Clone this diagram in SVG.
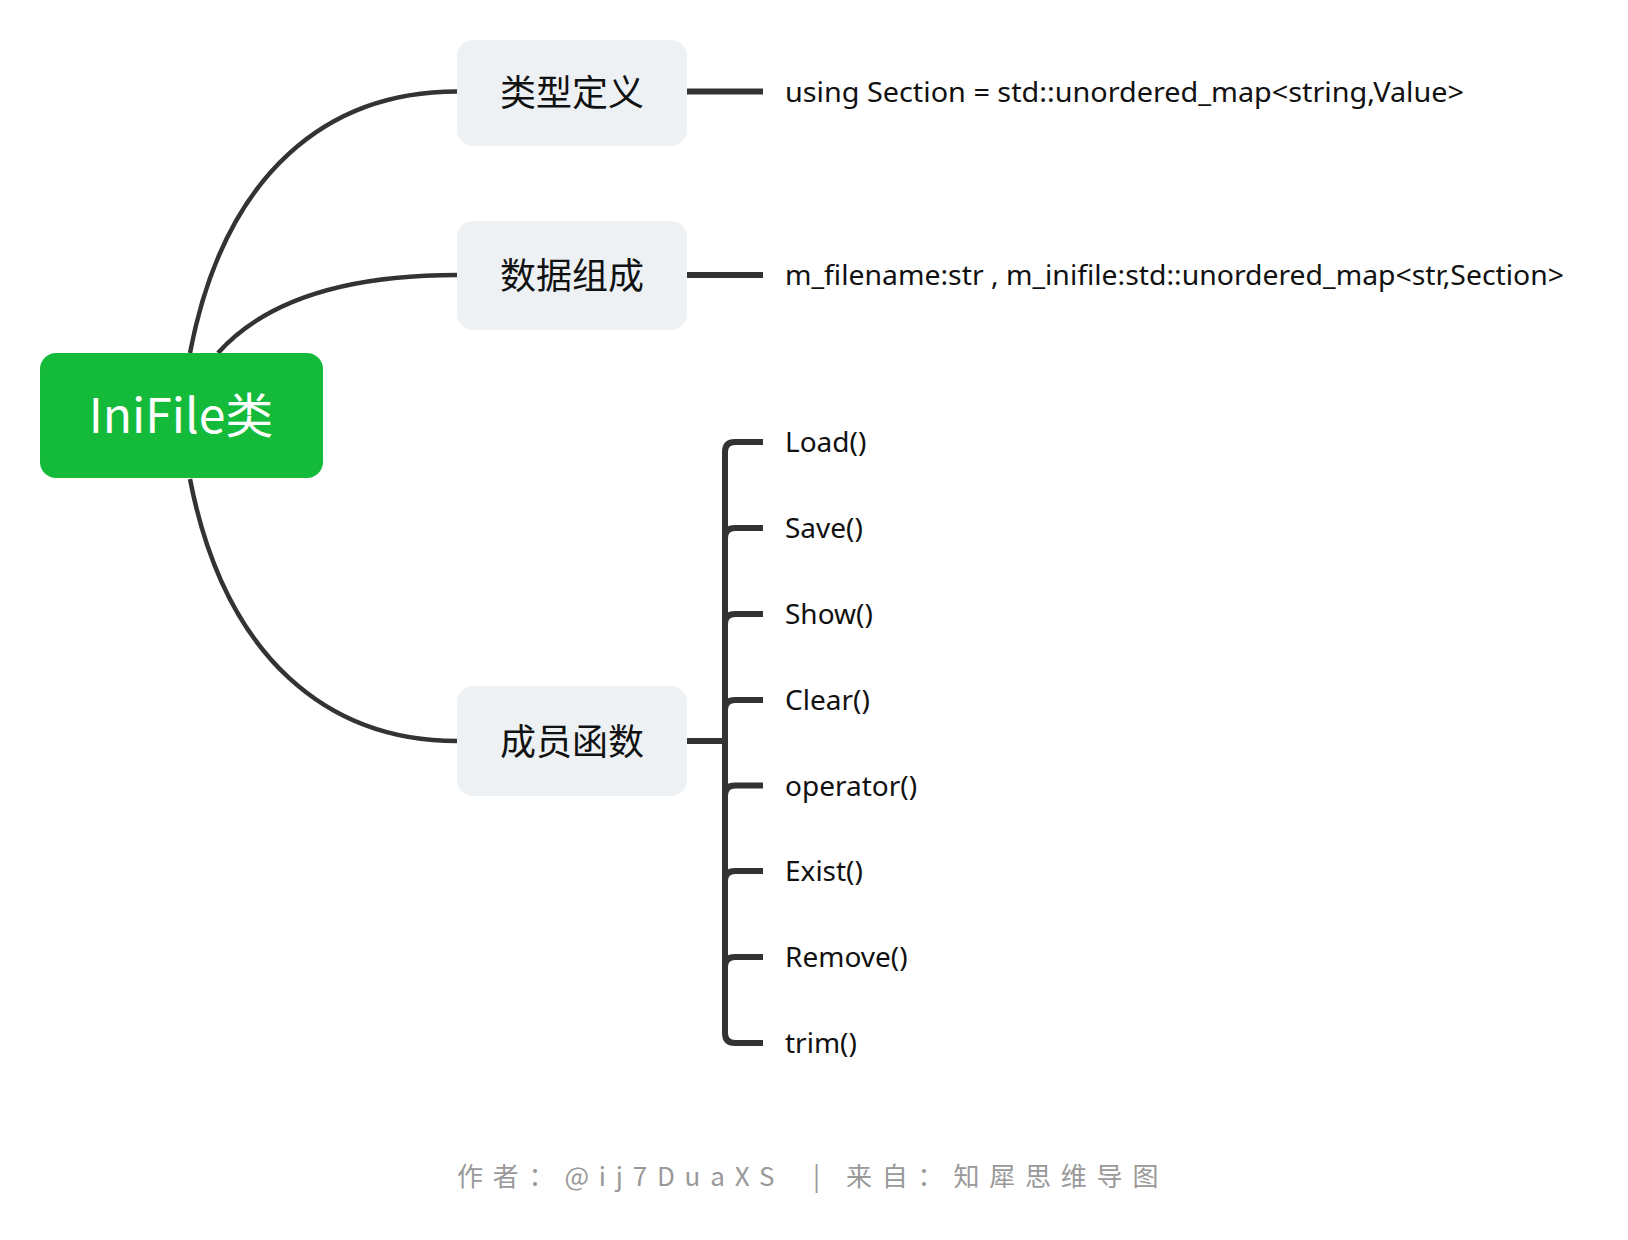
<svg xmlns="http://www.w3.org/2000/svg" width="1628" height="1240" viewBox="0 0 1628 1240">
<style>
.curve{fill:none;stroke:#333;stroke-width:4.5;stroke-linecap:butt}
.line{fill:none;stroke:#333;stroke-width:6;stroke-linecap:butt}
.sub{fill:#eef1f4}
.subt{font-family:"Noto Sans CJK SC",sans-serif;font-size:36px;fill:#111;text-anchor:middle}
.leaf{font-family:"Noto Sans","Noto Sans CJK SC",sans-serif;font-size:28px;fill:#111}
.foot{font-family:"Noto Sans CJK SC",sans-serif;font-size:26px;fill:#999;letter-spacing:9.8px}
</style>
<rect width="1628" height="1240" fill="#fff"/>
<g id="connectors">
<path class="curve" d="M190,353 C225,170 330,91.5 457,91.5"/>
<path class="curve" d="M218,353 C270,295 360,275 457,275"/>
<path class="curve" d="M190,479 C225,660 330,741 457,741"/>
<path class="line" d="M687,91.5 H763"/>
<path class="line" d="M687,275 H763"/>
<path class="line" d="M687,741 H725"/>
<path class="line" d="M763,442 H735 Q725,442 725,452 V1033 Q725,1043 735,1043 H763"/>
<path class="line" d="M725,538 Q725,528 735,528 H763"/>
<path class="line" d="M725,624 Q725,614 735,614 H763"/>
<path class="line" d="M725,710 Q725,700 735,700 H763"/>
<path class="line" d="M725,795.5 Q725,785.5 735,785.5 H763"/>
<path class="line" d="M725,881 Q725,871 735,871 H763"/>
<path class="line" d="M725,967 Q725,957 735,957 H763"/>
</g>
<g id="root">
<rect x="40" y="353" width="283" height="125" rx="16" fill="#14ba3a"/>
<text x="181" y="433" font-family="Noto Sans CJK SC,sans-serif" font-size="48" fill="#fff" text-anchor="middle">IniFile类</text>
</g>
<g id="n-typedef">
<rect class="sub" x="457" y="40" width="230" height="106" rx="16"/>
<text class="subt" x="572" y="106">类型定义</text>
</g>
<g id="n-data">
<rect class="sub" x="457" y="221" width="230" height="109" rx="16"/>
<text class="subt" x="572" y="289">数据组成</text>
</g>
<g id="n-func">
<rect class="sub" x="457" y="686" width="230" height="110" rx="16"/>
<text class="subt" x="572" y="755">成员函数</text>
</g>
<g id="leaf-using"><text class="leaf" x="785" y="101.5" textLength="679" lengthAdjust="spacingAndGlyphs">using Section = std::unordered_map&lt;string,Value&gt;</text></g>
<g id="leaf-data"><text class="leaf" x="785" y="285" textLength="779" lengthAdjust="spacingAndGlyphs">m_filename:str , m_inifile:std::unordered_map&lt;str,Section&gt;</text></g>
<g id="leaf-load"><text class="leaf" x="785" y="452">Load()</text></g>
<g id="leaf-save"><text class="leaf" x="785" y="538">Save()</text></g>
<g id="leaf-show"><text class="leaf" x="785" y="624">Show()</text></g>
<g id="leaf-clear"><text class="leaf" x="785" y="710">Clear()</text></g>
<g id="leaf-operator"><text class="leaf" x="785" y="795.5">operator()</text></g>
<g id="leaf-exist"><text class="leaf" x="785" y="881">Exist()</text></g>
<g id="leaf-remove"><text class="leaf" x="785" y="967">Remove()</text></g>
<g id="leaf-trim"><text class="leaf" x="785" y="1053">trim()</text></g>
<text class="foot" y="1186"><tspan x="457">作者：@ij7DuaXS</tspan><tspan x="813">|</tspan><tspan x="846">来自：知犀思维导图</tspan></text>
</svg>
